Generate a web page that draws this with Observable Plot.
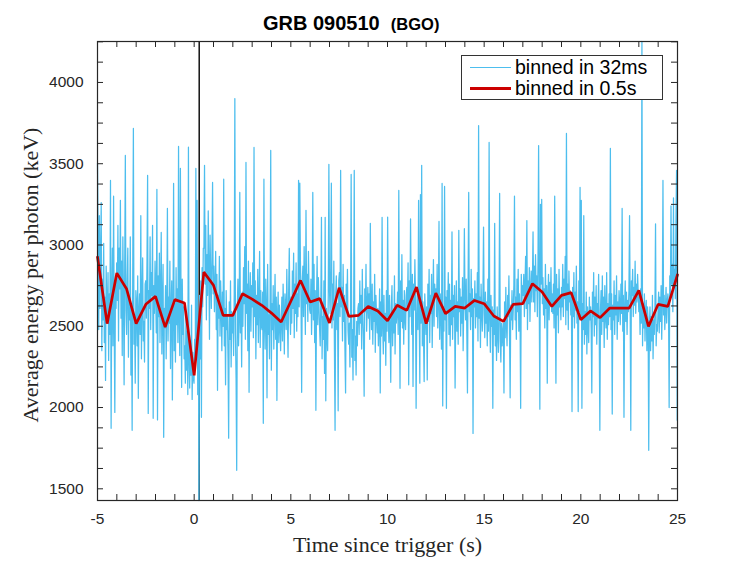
<!DOCTYPE html>
<html>
<head>
<meta charset="utf-8">
<script src="https://cdn.jsdelivr.net/npm/d3@7"></script>
<script src="https://cdn.jsdelivr.net/npm/@observablehq/plot@0.6"></script>
<style>
  html, body { margin: 0; padding: 0; background: #fff; }
  #wrap { position: relative; width: 747px; height: 561px; }
  #title { position: absolute; left: 263px; top: 12px; font: bold 20px "Liberation Sans", Arial, sans-serif; color: #000; white-space: pre; }
  #title .sub { font-size: 16.5px; }
  #legend { position: absolute; left: 461px; top: 55px; width: 200px; height: 43px; background: #fff; border: 1px solid #333; box-sizing: content-box; }
  #legend .row { position: absolute; left: 0; height: 20px; display: flex; align-items: center; font: 19.5px "Liberation Sans", Arial, sans-serif; color: #000; white-space: nowrap; }
  #legend .swatch { display: inline-block; width: 41px; margin-left: 8px; margin-right: 4px; }
</style>
</head>
<body>
<div id="wrap">
  <div id="chart"></div>
  <div id="title"></div>
  <div id="legend"></div>
</div>
<script>
// ---- data ----
const titleMain = "GRB 090510";
const titleSub = "(BGO)";
const xLabel = "Time since trigger (s)";
const yLabel = "Average energy per photon (keV)";
const legendLabels = ["binned in 32ms", "binned in 0.5s"];
const seriesColors = ["#4DBEEE", "#CC0000"];

const xTickLabels = [-5, 0, 5, 10, 15, 20, 25];
const yTickLabels = [1500, 2000, 2500, 3000, 3500, 4000];

const binStart = -5;       // s
const fineBin = 0.032;     // s, 32 ms bins
const coarseBin = 0.5;     // s
const markerTime = 0.26;   // vertical marker line (s)

// 32 ms binned average energy (keV), grouped per 0.5 s for readability
const fineRows = [
  [3502,3050,2480,3180,2610,2920,3260,2350,2790,2540,3010,2400,2680,2167,2870,2600],
  [2560,2830,2290,2700,2450,3397,1872,2640,2980,2380,3300,2520,1970,2750,2610],
  [2890,2660,3120,2410,2980,2730,3274,2550,2900,2320,3050,2680,2140,2870,3551,2600],
  [2450,2760,2980,2310,2690,2540,3050,2200,2630,1860,2880,3717,2390,2570,2150,2720],
  [2640,2380,2810,2057,2590,2700,2450,3180,2300,2660,2920,2410,2530,2280,2760],
  [2780,2550,2900,3428,1964,2720,2610,3050,2480,2830,2690,3120,1934,2750,2580,2900],
  [2700,2460,3342,1924,2810,2560,2950,2400,2720,3077,2330,2640,2880,1817,2610],
  [2490,2750,2300,2620,3225,2410,2680,2520,2900,2240,2610,2780,2047,2560,3379,2350],
  [2640,2280,2860,2510,2730,2400,3606,2550,2320,3471,2680,2124,2790,2450,2620,2300],
  [2380,2150,2560,2230,2470,2080,3602,2290,2120,2410,2200,2630,2050,2340,2180],
  [2150,2420,2260,3471,2350,3274,2080,2530,1428,2690,2300,2780,1940,2860,2620,2980],
  [2980,3490,2760,3120,2540,2940,2690,3210,2850,2420,3060,2780,2610,2950,3385,2700],
  [2870,2590,2740,2960,2480,2820,2106,2690,2550,2930,2440,2780,2620,2350,2710],
  [2500,3405,2380,2610,2140,2720,2480,2560,2300,1811,2650,2420,2780,2250,2590,2460],
  [2560,2320,2700,3901,2450,2180,1614,2620,2790,2380,2540,3323,2460,2680,2250],
  [2710,2500,2860,2640,2990,2420,3508,2580,2760,2350,2900,2094,2690,2830,2470,2750],
  [2620,2890,2430,3600,2560,2780,2300,2690,2510,2850,2400,2640,2960,2370,2720,2500],
  [2480,2710,1903,3405,2540,2360,2790,2620,2060,2880,2450,2570,2300,2690,3582],
  [2230,2640,2480,2750,2360,2590,2820,2420,2680,2044,2560,2710,2400,2630,2510,2350],
  [2540,2680,2410,2760,2590,2330,2700,2620,2480,2850,2550,2309,2720,2979,2600,2450],
  [2680,2520,2840,2610,2950,2430,2760,2580,2890,2470,2700,2560,3397,2620,3380],
  [2900,2650,2094,2780,2870,2560,2990,2700,2450,3213,2640,2820,2530,2960,2710,2600],
  [2580,2790,2450,2670,3323,2540,2880,2400,2720,1983,2650,2930,2510,2800,2620],
  [2490,2380,2650,3170,2300,2560,2420,2780,2210,3170,2041,2610,2470,2350,2690,3496],
  [2720,2580,2860,3380,2490,2760,2540,2900,2350,1860,2690,2810,2480,2640,1980,2780],
  [2830,2560,3459,2620,2740,2410,2880,2530,2690,2350,2090,2760,2590,2850,2470],
  [2390,2520,2250,2600,3434,2310,2480,2170,2560,3459,2290,2440,2200,2530,2380,2610],
  [2640,2450,2780,2520,2690,2360,2850,2560,2410,2070,2730,2590,2880,2470,2620,2740],
  [2550,2700,2420,3133,2610,2480,2760,2390,2650,2530,2820,2340,2690,2570,2460],
  [2610,2380,2520,2730,2090,2650,2440,3170,2500,2330,2690,2410,2580,2260,2720,2470],
  [3172,2560,2400,2690,2480,2155,2620,2750,2380,2590,2460,2810,2330,2640,2520],
  [2580,2710,2450,3336,2620,2118,2780,2530,2940,2490,2660,2390,2720,2550,2480,2690],
  [2740,2620,2890,2140,2780,2560,3160,2690,2450,2820,2130,2760,2600,2910,2680],
  [1995,2540,2730,2480,3274,2600,2150,3310,2520,3490,2380,2650,2420,2160,2700,2580],
  [2450,2620,2170,2760,2530,2850,2400,2690,2580,2820,2370,2640,2910,2500,2760,2680],
  [2730,2560,2880,2490,2650,3145,2420,2700,2580,2360,3379,2010,2620,2470,3360],
  [2540,2680,1995,2720,2590,2830,2450,2760,2380,2660,2510,3080,2420,2690,2560,2750],
  [2120,2560,2780,2470,2650,2390,3090,2590,2730,2440,2680,2520,2800,2350,2620,3100],
  [2680,2540,2790,2450,2090,2760,3323,2590,2700,2480,2850,2560,2730,1841,2670],
  [2620,2780,2490,2700,2560,2830,2410,3735,2550,2680,2370,2760,2590,2470,2690,3110],
  [2580,2430,2710,2520,2650,2380,2790,2470,3631,2560,2340,2690,2500,2620,1995,2600],
  [2450,3133,2380,2560,2290,2620,2470,2340,2590,3317,2410,2280,2520,2380,2470],
  [2520,2090,2650,2430,2740,2510,2380,2690,2560,2810,2450,2060,2630,2540,2720,2480],
  [2600,2750,3300,2540,2680,2420,2790,2590,2850,2470,2700,2560,1995,2820,2640,2750],
  [2690,2820,2560,2750,2930,2610,3150,2480,2780,2640,2860,2530,2720,2840,2650],
  [2780,3080,2650,2870,2590,2940,2720,2810,2560,2900,3612,2680,1990,3250,2760,3280],
  [2640,2800,2570,2730,2490,2880,2610,2750,2150,2690,2820,2540,2770,2630,2860,2590],
  [2700,2580,2760,2490,3300,2640,2150,2820,2570,2730,2460,2850,2620,2690,2540],
  [2740,2620,2880,2560,2790,2670,2930,2510,3686,2600,2760,2480,2840,2650,2720,2570],
  [2680,1975,2740,2560,2830,2490,2710,2600,2870,2520,2650,1975,2780,2590,3354],
  [2560,3274,1995,2640,2480,3180,2390,2590,2450,2710,2330,2620,2500,2400,2680,2540],
  [2620,2480,2090,2710,2560,2830,2440,2680,2510,2750,2390,2640,2550,2820,2470,1860],
  [2600,2720,2450,2810,2530,2680,2370,2750,2560,2490,2830,2420,2640,2510,2700],
  [2560,3594,2480,2700,1960,2630,2540,2780,2450,2690,2570,2810,2420,2650,2530,2720],
  [2640,2510,2760,2580,3225,2470,2690,1940,2620,2780,2530,2710,2450,2660,2590],
  [2720,3180,2610,1860,2780,2690,2850,2560,2740,2630,2900,2580,2760,2650,2820,2700],
  [2590,2680,2450,2730,2520,4252,2380,2640,2490,2700,2410,2590,2660,2350,2620,2540],
  [1737,2480,2620,2350,2560,2410,2690,2300,2540,2450,2600,3130,2380,2510,2470],
  [2590,2710,2460,2680,2530,2750,2420,2640,3397,2570,2690,2480,2610,2740,2520,2650],
  [2700,2620,2000,2810,2690,3240,2760,2880,2590,3290,2740,2850,2670,3150,3459,1921]
];

// 0.5 s binned average energy (keV), at -5, -4.5, ..., 25 s
const coarseValues = [
  2926,2516,2827,2731,2516,2635,2684,2495,2664,2643,
  2198,2833,2752,2567,2567,2700,2667,2629,2581,2526,
  2654,2782,2649,2670,2520,2737,2561,2567,2622,2594,
  2534,2629,2598,2741,2516,2704,2578,2622,2612,2659,
  2639,2563,2530,2635,2639,2762,2711,2622,2690,2707,
  2540,2594,2553,2612,2612,2612,2721,2499,2635,2622,
  2817
];

// ---- build tables ----
const fineValues = fineRows.flat();
const fine = fineValues.map((v, i) => ({t: binStart + i * fineBin, v}));
const coarse = coarseValues.map((v, i) => ({t: binStart + i * coarseBin, v}));

const xDomain = [d3.min(xTickLabels), d3.max(xTickLabels)];
const yDomain = d3.extent(fineValues);
const xMinorTicks = d3.range(xDomain[0], xDomain[1] + 1e-9, 1);
const yMinorTicks = d3.range(yTickLabels[0], yDomain[1] + 1e-9, 125);

const W = 747, H = 561, ML = 97, MR = 70, MT = 41, MB = 61;
const frameW = W - ML - MR, frameH = H - MT - MB;
const tickLen = 6;

const axisColor = "#262626";
const tickFont = '"Liberation Sans", Arial, sans-serif';
const serifFont = '"Liberation Serif", "Times New Roman", serif';

const chart = Plot.plot({
  width: W,
  height: H,
  marginLeft: ML,
  marginRight: MR,
  marginTop: MT,
  marginBottom: MB,
  style: {background: "transparent", overflow: "visible", fontSize: "15.5px", fontFamily: tickFont, color: axisColor},
  x: {domain: xDomain},
  y: {domain: yDomain},
  marks: [
    Plot.ruleX([markerTime], {stroke: "#000", strokeWidth: 1.4}),
    Plot.lineY(fine, {x: "t", y: "v", stroke: seriesColors[0], strokeWidth: 1.25}),
    Plot.lineY(coarse, {x: "t", y: "v", stroke: seriesColors[1], strokeWidth: 2.7, strokeLinejoin: "miter"}),
    Plot.frame({stroke: axisColor, strokeWidth: 1.2}),
    // inward ticks on all four sides
    Plot.tickX(xMinorTicks, {x: d => d, insetTop: frameH - tickLen, stroke: axisColor, strokeWidth: 1}),
    Plot.tickX(xMinorTicks, {x: d => d, insetBottom: frameH - tickLen, stroke: axisColor, strokeWidth: 1}),
    Plot.tickY(yMinorTicks, {y: d => d, insetRight: frameW - tickLen, stroke: axisColor, strokeWidth: 1}),
    Plot.tickY(yMinorTicks, {y: d => d, insetLeft: frameW - tickLen, stroke: axisColor, strokeWidth: 1}),
    // tick labels
    Plot.axisX(xTickLabels, {anchor: "bottom", tickSize: 0, tickPadding: 12, label: null, fontSize: 15.5, tickFormat: d => String(d)}),
    Plot.axisY(yTickLabels, {anchor: "left", tickSize: 0, tickPadding: 14, label: null, fontSize: 15.5, tickFormat: d => String(d)}),
    // axis titles
    Plot.text([xLabel], {frameAnchor: "bottom", text: d => d, dy: 44, lineAnchor: "middle", fontSize: 22, fontFamily: serifFont, fill: axisColor}),
    Plot.text([yLabel], {frameAnchor: "left", text: d => d, rotate: -90, dx: -67, dy: 4, textAnchor: "middle", lineAnchor: "middle", fontSize: 22, fontFamily: serifFont, fill: axisColor})
  ]
});
document.getElementById("chart").appendChild(chart);

// title
const title = document.getElementById("title");
title.textContent = titleMain + "  ";
const sub = document.createElement("span");
sub.className = "sub";
sub.textContent = titleSub;
title.appendChild(sub);

// legend
const legend = document.getElementById("legend");
legendLabels.forEach((label, i) => {
  const row = document.createElement("div");
  row.className = "row";
  row.style.top = (1.5 + i * 20.6) + "px";
  const sw = document.createElement("span");
  sw.className = "swatch";
  sw.style.borderTop = (i === 0 ? 1.2 : 3) + "px solid " + seriesColors[i];
  const txt = document.createElement("span");
  txt.textContent = label;
  row.appendChild(sw);
  row.appendChild(txt);
  legend.appendChild(row);
});
</script>
</body>
</html>
